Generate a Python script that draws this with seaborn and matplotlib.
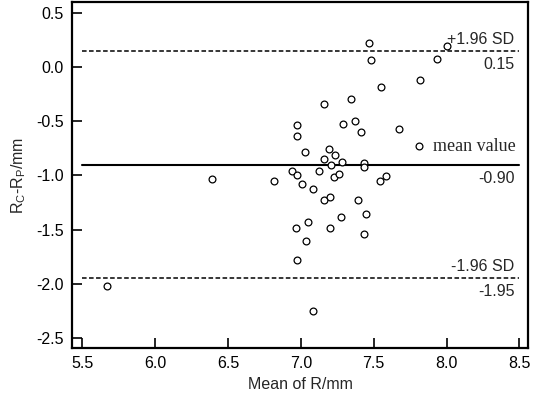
import matplotlib
matplotlib.use("Agg")
import matplotlib.pyplot as plt
import seaborn as sns
import pandas as pd

mean_r = [7.466, 7.482, 7.932, 8.000, 7.815, 7.548, 7.347, 7.160, 6.977, 6.971,
          7.290, 7.373, 7.411, 7.674, 7.032, 7.190, 7.233, 7.158, 7.281, 7.210,
          7.432, 7.432, 6.943, 6.977, 7.126, 7.228, 7.265, 6.390, 6.818, 7.546,
          7.587, 7.010, 7.085, 7.158, 7.197, 7.390, 7.274, 7.448, 7.048, 6.968,
          7.203, 7.432, 7.034, 6.977, 7.087, 5.671]
diff_r = [0.226, 0.068, 0.078, 0.195, -0.114, -0.181, -0.296, -0.339, -0.531, -0.632,
          -0.521, -0.494, -0.598, -0.571, -0.781, -0.753, -0.808, -0.852, -0.873, -0.907,
          -0.880, -0.917, -0.954, -0.991, -0.963, -1.012, -0.987, -1.034, -1.049, -1.055,
          -1.003, -1.080, -1.129, -1.231, -1.197, -1.222, -1.382, -1.352, -1.429, -1.481,
          -1.487, -1.543, -1.605, -1.781, -2.253, -2.021]

upper_loa = 0.15
mean_diff = -0.90
lower_loa = -1.95
xticks = [5.5, 6.0, 6.5, 7.0, 7.5, 8.0, 8.5]
yticks = [0.5, 0.0, -0.5, -1.0, -1.5, -2.0, -2.5]

sns.set_style("ticks")
plt.rcParams['font.family'] = ['Liberation Sans', 'DejaVu Sans']
plt.rcParams['mathtext.default'] = 'regular'

df = pd.DataFrame({"mean": mean_r, "diff": diff_r})

fig = plt.figure(figsize=(5.33, 3.96), dpi=100)
ax = fig.add_axes([0.135, 0.1212, 0.856, 0.874])

sns.scatterplot(data=df, x="mean", y="diff", ax=ax, s=24, marker="o",
                facecolor="white", edgecolor="black", linewidth=0.9, zorder=3)

ax.plot([5.5, 8.5], [upper_loa, upper_loa], color="black", lw=1.1, ls=(0, (3, 1.6)))
ax.plot([5.5, 8.5], [mean_diff, mean_diff], color="black", lw=1.5)
ax.plot([5.5, 8.5], [lower_loa, lower_loa], color="black", lw=1.1, ls=(0, (3, 1.6)))

tx = 8.465
fs = 11.5
ax.text(tx, upper_loa + 0.04, "+1.96 SD", ha="right", va="bottom", fontsize=fs)
ax.text(tx, upper_loa - 0.05, "0.15", ha="right", va="top", fontsize=fs)
ax.text(tx, mean_diff - 0.06, "-0.90", ha="right", va="top", fontsize=fs)
ax.text(tx, lower_loa + 0.04, "-1.96 SD", ha="right", va="bottom", fontsize=fs)
ax.text(tx, lower_loa - 0.05, "-1.95", ha="right", va="top", fontsize=fs)

ax.scatter([7.809], [-0.73], s=24, facecolor="white", edgecolor="black", linewidth=0.9, zorder=3)
ax.text(7.905, -0.73, "mean value", ha="left", va="center", fontsize=13,
        family=["Liberation Serif", "DejaVu Serif"])

ax.set_xlim(5.43, 8.56)
ax.set_ylim(-2.595, 0.605)
ax.set_xticks(xticks)
ax.set_yticks(yticks)
ax.set_xticklabels([f"{v:.1f}" for v in xticks])
ax.set_yticklabels([f"{v:.1f}" for v in yticks])
ax.tick_params(direction="in", length=7, width=1.2, labelsize=fs, pad=6,
               top=False, right=False, colors="black")
for sp in ax.spines.values():
    sp.set_visible(True)
    sp.set_linewidth(1.6)
    sp.set_color("black")

ax.set_xlabel("Mean of R/mm", fontsize=fs, labelpad=4)
ax.set_ylabel("R$_C$-R$_P$/mm", fontsize=fs, labelpad=6)

fig.savefig("out.png", dpi=100)
